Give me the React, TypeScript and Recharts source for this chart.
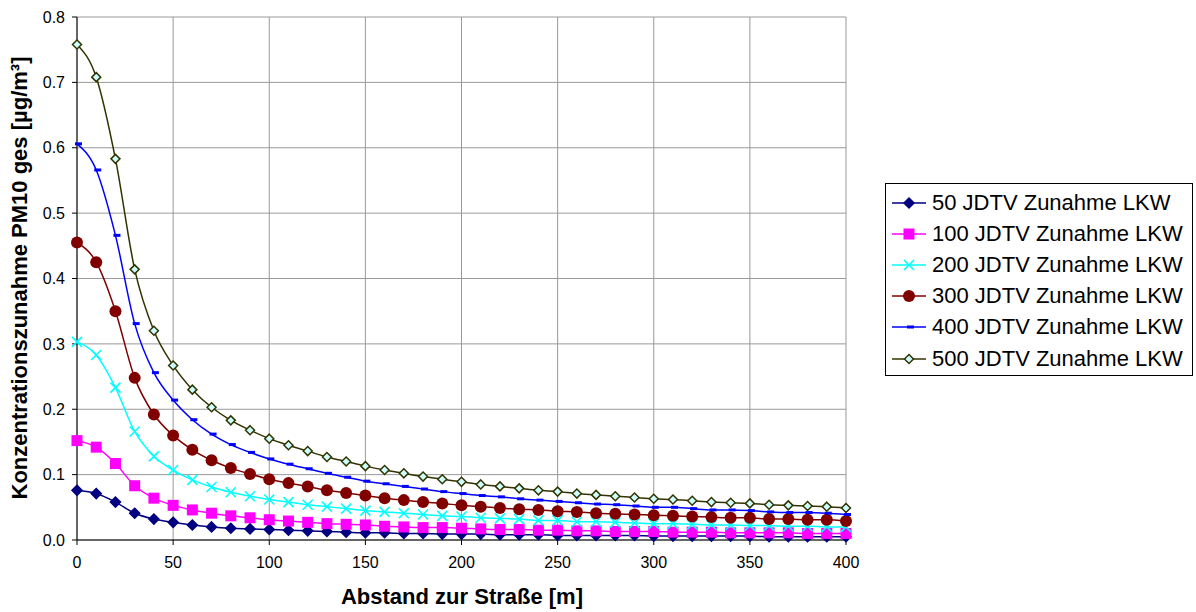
import React from "react";
import {
  LineChart, Line, XAxis, YAxis, CartesianGrid, Label,
} from "recharts";

const FONT = "Arial, 'Liberation Sans', sans-serif";

// Abstand zur Straße [m]
const distances = [
  0, 10, 20, 30, 40, 50, 60, 70, 80, 90, 100, 110, 120, 130, 140, 150, 160, 170, 180, 190, 200,
  210, 220, 230, 240, 250, 260, 270, 280, 290, 300, 310, 320, 330, 340, 350, 360, 370, 380, 390, 400,
];

const jdtv50 = [
  0.076, 0.071, 0.058, 0.041, 0.032, 0.027, 0.023, 0.020, 0.018, 0.017, 0.016, 0.015, 0.014, 0.013,
  0.012, 0.011, 0.011, 0.010, 0.010, 0.009, 0.009, 0.009, 0.008, 0.008, 0.008, 0.007, 0.007, 0.007,
  0.007, 0.007, 0.006, 0.006, 0.006, 0.006, 0.006, 0.006, 0.005, 0.005, 0.005, 0.005, 0.005,
];
const jdtv100 = [
  0.152, 0.142, 0.117, 0.083, 0.064, 0.053, 0.046, 0.041, 0.037, 0.034, 0.031, 0.029, 0.027, 0.025,
  0.024, 0.023, 0.021, 0.020, 0.019, 0.019, 0.018, 0.017, 0.016, 0.016, 0.015, 0.015, 0.014, 0.014,
  0.013, 0.013, 0.013, 0.012, 0.012, 0.012, 0.011, 0.011, 0.011, 0.011, 0.010, 0.010, 0.010,
];
const jdtv200 = [
  0.303, 0.283, 0.233, 0.166, 0.128, 0.107, 0.092, 0.081, 0.073, 0.067, 0.062, 0.058, 0.054, 0.051,
  0.048, 0.045, 0.043, 0.041, 0.039, 0.037, 0.036, 0.034, 0.033, 0.032, 0.030, 0.030, 0.028, 0.028,
  0.027, 0.026, 0.025, 0.025, 0.024, 0.023, 0.023, 0.022, 0.022, 0.021, 0.021, 0.020, 0.020,
];
const jdtv300 = [
  0.455, 0.425, 0.350, 0.248, 0.192, 0.160, 0.138, 0.122, 0.110, 0.101, 0.093, 0.087, 0.082, 0.076,
  0.072, 0.068, 0.064, 0.061, 0.058, 0.056, 0.053, 0.051, 0.049, 0.047, 0.046, 0.044, 0.043, 0.041,
  0.040, 0.039, 0.038, 0.037, 0.036, 0.035, 0.034, 0.034, 0.032, 0.032, 0.031, 0.031, 0.029,
];
const jdtv400 = [
  0.606, 0.566, 0.466, 0.331, 0.256, 0.214, 0.184, 0.162, 0.146, 0.134, 0.124, 0.116, 0.109, 0.102,
  0.096, 0.090, 0.086, 0.082, 0.078, 0.074, 0.071, 0.068, 0.066, 0.063, 0.061, 0.059, 0.057, 0.055,
  0.054, 0.052, 0.050, 0.050, 0.048, 0.046, 0.046, 0.045, 0.043, 0.042, 0.042, 0.041, 0.039,
];
const jdtv500 = [
  0.758, 0.708, 0.583, 0.414, 0.320, 0.267, 0.230, 0.203, 0.183, 0.168, 0.155, 0.145, 0.136, 0.127,
  0.120, 0.113, 0.107, 0.102, 0.097, 0.093, 0.089, 0.085, 0.082, 0.079, 0.076, 0.074, 0.071, 0.069,
  0.067, 0.065, 0.063, 0.062, 0.060, 0.058, 0.057, 0.056, 0.054, 0.053, 0.052, 0.051, 0.049,
];

const xTicks = [0, 50, 100, 150, 200, 250, 300, 350, 400];
const yTicks = [0, 0.1, 0.2, 0.3, 0.4, 0.5, 0.6, 0.7, 0.8];

const data = distances.map((d, i) => ({
  d,
  s50: jdtv50[i],
  s100: jdtv100[i],
  s200: jdtv200[i],
  s300: jdtv300[i],
  s400: jdtv400[i],
  s500: jdtv500[i],
}));

// Marker-Formen wie im Excel-Original
type M = { cx?: number; cy?: number };
const Diamond = ({ cx = 0, cy = 0 }: M, fill = "#000080", stroke = "#000080", r = 5) => (
  <path d={`M${cx},${cy - r}L${cx + r},${cy}L${cx},${cy + r}L${cx - r},${cy}Z`} fill={fill} stroke={stroke} strokeWidth={1.5} />
);
const markers: Record<string, (p: M) => React.ReactElement> = {
  s50: (p) => Diamond(p, "#000080", "#000080", 5),
  s100: ({ cx = 0, cy = 0 }) => <rect x={cx - 5.5} y={cy - 5.5} width={11} height={11} fill="#ff00ff" />,
  s200: ({ cx = 0, cy = 0 }) => (
    <path d={`M${cx - 5},${cy - 5}L${cx + 5},${cy + 5}M${cx - 5},${cy + 5}L${cx + 5},${cy - 5}`} stroke="#00ffff" strokeWidth={1.6} />
  ),
  s300: ({ cx = 0, cy = 0 }) => <circle cx={cx} cy={cy} r={6} fill="#800000" />,
  s400: ({ cx = 0, cy = 0 }) => <rect x={cx - 2} y={cy - 1.5} width={7} height={3} fill="#0000ff" />,
  s500: (p) => Diamond(p, "#ccffff", "#333300", 4.5),
};

const seriesList = [
  { key: "s50", name: "50 JDTV Zunahme LKW", color: "#000080" },
  { key: "s100", name: "100 JDTV Zunahme LKW", color: "#ff00ff" },
  { key: "s200", name: "200 JDTV Zunahme LKW", color: "#00ffff" },
  { key: "s300", name: "300 JDTV Zunahme LKW", color: "#800000" },
  { key: "s400", name: "400 JDTV Zunahme LKW", color: "#0000ff" },
  { key: "s500", name: "500 JDTV Zunahme LKW", color: "#333300" },
];

function LegendBox() {
  return (
    <div
      style={{
        position: "absolute", left: 885, top: 183, width: 306, height: 188,
        border: "1px solid #000", background: "#fff", fontFamily: FONT, fontSize: 22,
        paddingTop: 3, boxSizing: "content-box",
      }}
    >
      {seriesList.map((s) => (
        <div key={s.key} style={{ height: 31.2, display: "flex", alignItems: "center" }}>
          <svg width={46} height={20} style={{ flex: "none" }}>
            <line x1={6} x2={40} y1={10} y2={10} stroke={s.color} strokeWidth={1.5} />
            {markers[s.key]({ cx: 23, cy: 10 })}
          </svg>
          <span style={{ color: "#000", whiteSpace: "nowrap", lineHeight: "22px" }}>{s.name}</span>
        </div>
      ))}
    </div>
  );
}

export default function App() {
  return (
    <div style={{ position: "absolute", left: 0, top: 0, width: 1196, height: 612, background: "#fff" }}>
      <LineChart width={1196} height={612} data={data} margin={{ top: 17, right: 350, left: 0, bottom: 0 }}>
        <CartesianGrid stroke="#999" strokeWidth={1} />
        <XAxis
          dataKey="d" type="number" domain={[0, 400]} ticks={xTicks} height={72}
          stroke="#000" tickSize={5} tickMargin={12}
          tick={{ fill: "#000", fontSize: 16, fontFamily: FONT }}
        >
          <Label
            content={() => (
              <text x={462} y={604} textAnchor="middle" fontFamily={FONT} fontSize={22} fontWeight="bold" fill="#000">
                Abstand zur Straße [m]
              </text>
            )}
          />
        </XAxis>
        <YAxis
          type="number" domain={[0, 0.8]} ticks={yTicks} width={77}
          stroke="#000" tickSize={5} tickMargin={7}
          tickFormatter={(v: number) => v.toFixed(1)}
          tick={{ fill: "#000", fontSize: 16, fontFamily: FONT }}
        >
          <Label
            content={() => (
              <text
                x={27} y={278} transform="rotate(-90 27 278)" textAnchor="middle"
                fontFamily={FONT} fontSize={22} fontWeight="bold" fill="#000"
              >
                Konzentrationszunahme PM10 ges [µg/m³]
              </text>
            )}
          />
        </YAxis>
        {seriesList.map((s) => (
          <Line
            key={s.key}
            type="monotone"
            dataKey={s.key}
            name={s.name}
            stroke={s.color}
            strokeWidth={1.5}
            dot={(p: any) => <g key={`${s.key}-${p.index}`}>{markers[s.key](p)}</g>}
            activeDot={false}
            isAnimationActive={false}
          />
        ))}
      </LineChart>
      <LegendBox />
    </div>
  );
}
